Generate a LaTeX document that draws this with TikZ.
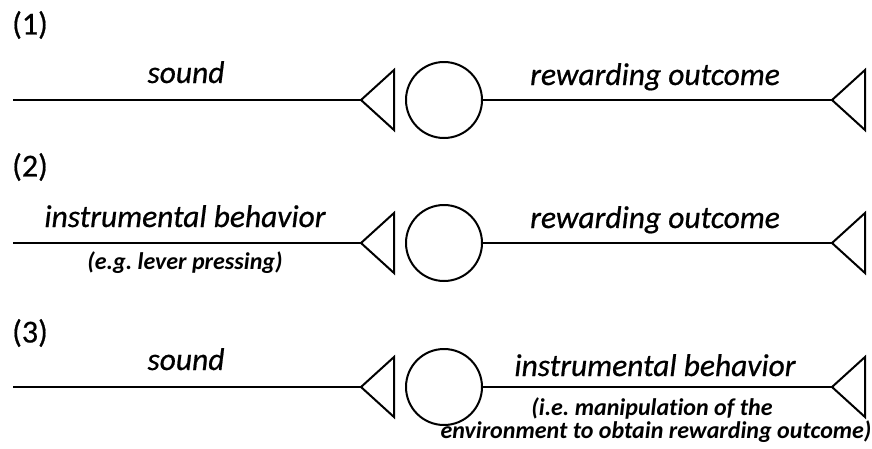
\documentclass[tikz,border=0pt]{standalone}
\usepackage{fontspec}
\setmainfont{Carlito}
\newfontfamily\heavyfont[FakeBold=0.6]{Carlito}
\newfontfamily\notefont[Ligatures=NoCommon]{Carlito}
\frenchspacing
\begin{document}
\begin{tikzpicture}[x=1pt,y=-1pt,
  wire/.style={line width=2pt},
  cell/.style={circle,draw,line width=2pt,minimum size=76pt,inner sep=0pt},
  lab/.style={anchor=base,font=\heavyfont\fontsize{31.5}{35}\selectfont\itshape,inner sep=0pt},
  note/.style={anchor=base,font=\notefont\fontsize{24}{28}\selectfont\bfseries\itshape\frenchspacing,inner sep=0pt},
  num/.style={anchor=west,font=\heavyfont\fontsize{32}{36}\selectfont,inner sep=0pt}]
\useasboundingbox (0,0) rectangle (872,448);
\foreach \r/\y in {1/100,2/243,3/387}{
  \coordinate (s\r) at (13,\y);
  \coordinate (t\r) at (361,\y);
  \node[cell] (c\r) at (444,\y) {};
  \coordinate (u\r) at (832,\y);
  \draw[wire] (s\r) -- (t\r);
  \draw[wire,line join=miter] (t\r) -- ++(33,-30) -- ++(0,60) -- cycle;
  \draw[wire] (c\r.east) -- (u\r);
  \draw[wire,line join=miter] (u\r) -- ++(33,-30) -- ++(0,60) -- cycle;
}
\node[num] (n1) at (12,25) {(1)};
\node[num] (n2) at (12,167) {(2)};
\node[num] (n3) at (12,333) {(3)};
\node[lab] (a1) at (186,83) {sound};
\node[lab] (b1) at (655,85) {rewarding outcome};
\node[lab] (a2) at (185,227) {instrumental behavior};
\node[note] (e2) at (185,269) {(e.g. lever pressing)};
\node[lab] (b2) at (655,228) {rewarding outcome};
\node[lab] (a3) at (186,370) {sound};
\node[lab] (b3) at (655,376) {instrumental behavior};
\node[note] (e3) at (652,415) {(i.e. manipulation of the};
\node[note] (f3) at (656,438) {environment to obtain rewarding outcome)};
\end{tikzpicture}
\end{document}
